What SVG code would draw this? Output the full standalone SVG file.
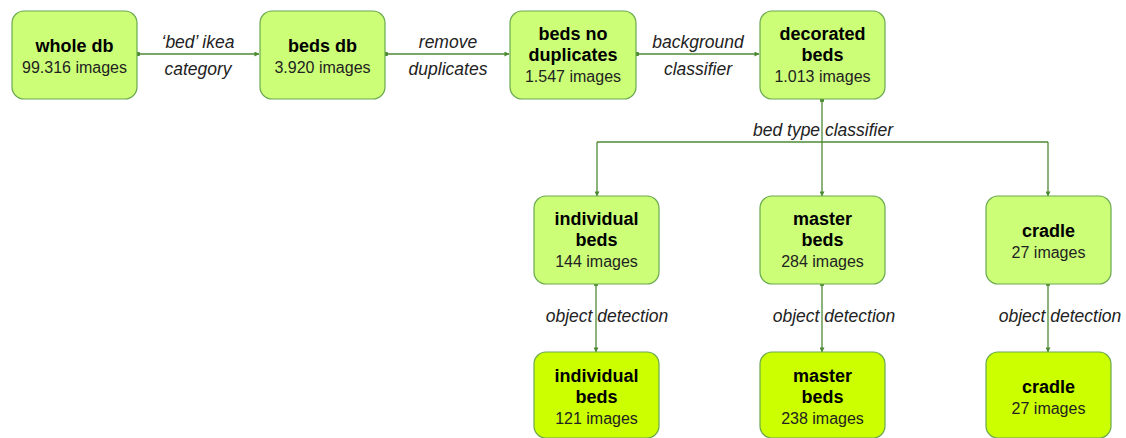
<svg xmlns="http://www.w3.org/2000/svg" width="1126" height="438" viewBox="0 0 1126 438">
  <style>
    .box { fill: #ccff77; stroke: #6aa84f; stroke-width: 1.2; }
    .box2 { fill: #ccff00; stroke: #6aa84f; stroke-width: 1.2; }
    .t { font-family: "Liberation Sans", Arial, sans-serif; font-size: 18px; font-weight: bold; fill: #000; text-anchor: middle; }
    .n { font-family: "Liberation Sans", Arial, sans-serif; font-size: 16px; fill: #222; text-anchor: middle; }
    .lbl { font-family: "Liberation Sans", Arial, sans-serif; font-size: 17.5px; font-style: italic; fill: #222; text-anchor: middle; }
    .edge { fill: none; stroke: #4e8a33; stroke-width: 1.3; }
  </style>
  <defs>
    <marker id="arrow" viewBox="0 0 6 6" refX="5.5" refY="3" markerWidth="5" markerHeight="5" orient="auto" markerUnits="userSpaceOnUse">
      <path d="M0,0 L6,3 L0,6 z" fill="#4e8a33"/>
    </marker>
    <marker id="dot" viewBox="0 0 6 6" refX="3" refY="3" markerWidth="4.5" markerHeight="4.5" markerUnits="userSpaceOnUse">
      <circle cx="3" cy="3" r="3" fill="#4e8a33"/>
    </marker>
  </defs>

  <!-- connectors -->
  <g id="connectors">
    <path class="edge" d="M138,54 L259,54" marker-start="url(#dot)" marker-end="url(#arrow)"/>
    <path class="edge" d="M386,54 L509,54" marker-start="url(#dot)" marker-end="url(#arrow)"/>
    <path class="edge" d="M637,54 L759,54" marker-start="url(#dot)" marker-end="url(#arrow)"/>
    <path class="edge" d="M822,100 L822,196" marker-start="url(#dot)" marker-end="url(#arrow)"/>
    <path class="edge" d="M597,142 L1048,142"/>
    <path class="edge" d="M597,142 L597,196" marker-end="url(#arrow)"/>
    <path class="edge" d="M1048,142 L1048,196" marker-end="url(#arrow)"/>
    <path class="edge" d="M596,284 L596,352" marker-start="url(#dot)" marker-end="url(#arrow)"/>
    <path class="edge" d="M822,284 L822,352" marker-start="url(#dot)" marker-end="url(#arrow)"/>
    <path class="edge" d="M1048,284 L1048,352" marker-start="url(#dot)" marker-end="url(#arrow)"/>
    <text class="lbl" x="198" y="48">‘bed’ ikea</text>
    <text class="lbl" x="198" y="75">category</text>
    <text class="lbl" x="448" y="48">remove</text>
    <text class="lbl" x="448" y="75">duplicates</text>
    <text class="lbl" x="698" y="48">background</text>
    <text class="lbl" x="698" y="75">classifier</text>
    <text class="lbl" x="823" y="136">bed type classifier</text>
    <text class="lbl" x="607" y="322">object detection</text>
    <text class="lbl" x="834" y="322">object detection</text>
    <text class="lbl" x="1060" y="322">object detection</text>
  </g>

  <!-- top row -->
  <g id="whole-db">
    <rect class="box" x="12" y="11" width="125" height="88" rx="12"/>
    <text class="t" x="74.5" y="52">whole db</text>
    <text class="n" x="74.5" y="73">99.316 images</text>
  </g>
  <g id="beds-db">
    <rect class="box" x="260" y="11" width="125" height="88" rx="12"/>
    <text class="t" x="322.5" y="52">beds db</text>
    <text class="n" x="322.5" y="73">3.920 images</text>
  </g>
  <g id="beds-no-duplicates">
    <rect class="box" x="510" y="11" width="126" height="88" rx="12"/>
    <text class="t" x="573" y="40">beds no</text>
    <text class="t" x="573" y="61">duplicates</text>
    <text class="n" x="573" y="82">1.547 images</text>
  </g>
  <g id="decorated-beds">
    <rect class="box" x="760" y="11" width="125" height="88" rx="12"/>
    <text class="t" x="822.5" y="40">decorated</text>
    <text class="t" x="822.5" y="61">beds</text>
    <text class="n" x="822.5" y="82">1.013 images</text>
  </g>

  <!-- classified row -->
  <g id="individual-beds">
    <rect class="box" x="534" y="196" width="125" height="88" rx="12"/>
    <text class="t" x="596.5" y="225">individual</text>
    <text class="t" x="596.5" y="246">beds</text>
    <text class="n" x="596.5" y="267">144 images</text>
  </g>
  <g id="master-beds">
    <rect class="box" x="760" y="196" width="125" height="88" rx="12"/>
    <text class="t" x="822.5" y="225">master</text>
    <text class="t" x="822.5" y="246">beds</text>
    <text class="n" x="822.5" y="267">284 images</text>
  </g>
  <g id="cradle">
    <rect class="box" x="986" y="196" width="125" height="88" rx="12"/>
    <text class="t" x="1048.5" y="237">cradle</text>
    <text class="n" x="1048.5" y="258">27 images</text>
  </g>

  <!-- detected row -->
  <g id="individual-beds-detected">
    <rect class="box2" x="534" y="352" width="125" height="86" rx="12"/>
    <text class="t" x="596.5" y="382">individual</text>
    <text class="t" x="596.5" y="403">beds</text>
    <text class="n" x="596.5" y="424">121 images</text>
  </g>
  <g id="master-beds-detected">
    <rect class="box2" x="760" y="352" width="125" height="86" rx="12"/>
    <text class="t" x="822.5" y="382">master</text>
    <text class="t" x="822.5" y="403">beds</text>
    <text class="n" x="822.5" y="424">238 images</text>
  </g>
  <g id="cradle-detected">
    <rect class="box2" x="986" y="352" width="125" height="86" rx="12"/>
    <text class="t" x="1048.5" y="393">cradle</text>
    <text class="n" x="1048.5" y="414">27 images</text>
  </g>
</svg>
